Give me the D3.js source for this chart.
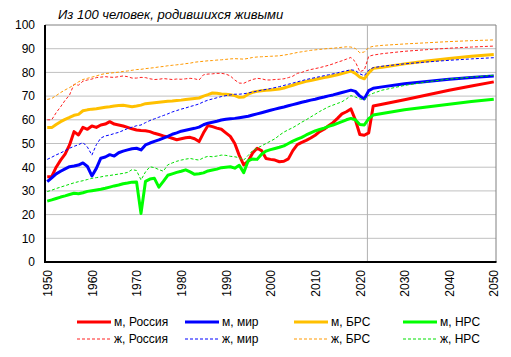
<!DOCTYPE html>
<html><head><meta charset="utf-8">
<script src="https://cdn.jsdelivr.net/npm/d3@7"></script>
<style>
html,body{margin:0;padding:0;background:#fff;}
text{font-family:"Liberation Sans",Arial,sans-serif;}
</style></head>
<body><svg id="c" width="511" height="357"></svg>
<script>
const title = "Из 100 человек, родившихся живыми";
const years = [1950,1951,1952,1953,1954,1955,1956,1957,1958,1959,
1960,1961,1962,1963,1964,1965,1966,1967,1968,1969,
1970,1971,1972,1973,1974,1975,1976,1977,1978,1979,
1980,1981,1982,1983,1984,1985,1986,1987,1988,1989,
1990,1991,1992,1993,1994,1995,1996,1997,1998,1999,
2000,2001,2002,2003,2004,2005,2006,2007,2008,2009,
2010,2011,2012,2013,2014,2015,2016,2017,2018,2019,
2020,2021,2022,2023,2025,2030,2035,2040,2045,2050];
const mRussia = [36.0,36.0,40.0,43.0,45.5,49.4,55.0,53.6,56.8,56.0,
57.4,56.8,57.8,58.2,59.2,58.2,57.8,57.4,56.8,56.2,
55.7,55.5,55.4,55.0,54.3,53.8,53.2,52.8,52.2,51.6,
52.0,52.4,52.6,52.0,50.8,54.5,57.6,57.1,56.5,56.0,
54.5,53.0,50.0,45.0,41.0,42.5,46.0,48.0,47.0,43.7,
43.3,43.0,42.3,42.5,43.5,47.0,49.5,50.5,51.3,52.3,
53.5,55.0,56.0,57.5,58.8,60.6,62.5,63.4,64.6,60.0,
53.8,53.5,54.5,65.8,66.6,68.5,70.5,72.5,74.3,76.0];
const mWorld = [33.9,35.5,37.2,38.3,39.3,40.2,40.5,40.9,41.8,40.3,
36.3,39.5,43.8,44.3,45.3,44.7,46.1,46.8,47.3,47.8,
48.0,47.3,49.4,50.2,50.9,51.5,52.3,53.0,53.9,54.5,
55.2,55.6,56.0,56.4,56.9,57.9,58.6,59.0,59.4,59.9,
60.2,60.4,60.6,60.9,61.2,61.5,62.0,62.5,63.0,63.5,
64.0,64.5,65.0,65.4,65.9,66.4,66.9,67.4,67.8,68.3,
68.7,69.2,69.6,70.1,70.5,71.0,71.5,72.0,72.5,72.0,
70.0,68.8,72.3,73.3,73.9,75.2,76.2,77.1,77.8,78.5];
const mBRS = [56.7,56.7,58.0,59.2,60.2,61.0,61.9,62.3,63.8,64.2,
64.5,64.7,65.0,65.3,65.5,65.8,66.0,66.1,65.8,65.5,
65.8,66.2,66.8,67.0,67.2,67.4,67.6,67.8,67.9,68.1,
68.3,68.6,68.8,69.0,69.2,70.0,70.6,71.3,71.2,70.9,
70.8,70.6,70.2,69.5,69.6,70.8,71.6,72.0,72.3,72.5,
72.6,72.8,73.0,73.4,74.0,74.6,75.2,75.7,76.2,76.6,
77.0,77.4,77.8,78.2,78.6,79.0,79.5,80.0,80.6,79.6,
78.0,77.3,79.8,81.7,82.2,83.6,84.8,85.9,86.8,87.6];
const mNRS = [25.7,26.2,26.8,27.4,27.9,28.5,29.0,28.8,29.2,29.8,
30.1,30.4,30.7,31.1,31.6,32.1,32.5,33.0,33.3,33.7,
33.8,20.5,34.0,35.0,35.3,31.6,34.0,36.6,37.2,37.8,
38.3,38.9,38.0,37.0,37.2,37.6,38.4,38.8,39.2,39.8,
40.0,40.2,39.6,40.8,37.7,42.7,43.5,43.3,45.5,46.8,
47.4,47.9,48.4,49.0,50.0,51.0,51.8,52.6,53.6,54.5,
55.3,55.9,56.5,57.2,57.8,58.5,59.2,60.0,60.6,60.0,
58.0,57.8,60.5,62.0,62.7,64.2,65.4,66.6,67.7,68.7];
const fRussia = [60.0,60.0,63.0,65.5,68.2,70.5,75.0,74.6,76.3,76.8,
77.2,77.8,78.0,78.2,78.0,77.9,78.2,78.5,78.2,77.6,
77.6,77.9,77.8,77.3,77.0,77.1,77.4,77.2,77.0,77.2,
77.1,77.3,77.5,77.3,76.8,79.0,79.3,79.4,79.6,79.6,
79.3,78.5,76.8,75.5,75.4,76.3,77.0,77.5,77.3,76.8,
76.8,77.0,77.1,77.3,77.8,78.4,79.6,80.0,80.7,81.2,
81.6,82.0,82.5,83.0,83.6,84.3,84.9,85.6,86.3,84.5,
80.3,81.0,86.8,87.3,87.9,88.9,89.6,90.2,90.7,91.1];
const fWorld = [43.3,44.2,45.2,46.0,47.0,48.0,48.8,49.5,50.4,48.5,
45.1,49.5,52.3,53.2,53.6,54.2,54.7,55.5,56.3,56.9,
57.5,57.8,58.8,59.7,60.4,61.1,61.8,62.5,63.3,63.9,
64.5,65.0,65.6,66.1,66.7,67.6,68.3,68.8,69.3,69.8,
70.2,70.5,70.8,70.8,71.0,71.3,71.7,72.1,72.5,72.8,
73.2,73.6,74.0,74.5,75.0,75.5,76.0,76.5,77.0,77.4,
77.8,78.2,78.6,79.0,79.4,79.8,80.3,80.7,81.1,80.8,
79.4,78.6,81.0,82.0,82.6,83.6,84.4,85.1,85.7,86.2];
const fBRS = [68.6,69.0,70.2,71.5,72.6,73.6,74.7,76.0,77.0,77.5,
78.0,78.5,79.1,79.5,79.7,79.9,80.1,80.4,80.6,80.9,
81.2,81.3,81.6,81.8,82.0,82.3,82.5,82.8,83.0,83.2,
83.4,83.7,83.9,84.3,84.5,84.7,84.9,85.0,85.2,85.3,
85.5,85.7,85.8,85.7,85.6,85.9,86.3,86.5,86.6,86.7,
86.8,86.9,87.0,87.3,87.6,88.0,88.4,88.7,89.0,89.3,
89.5,89.7,89.9,90.1,90.2,90.4,90.6,90.8,90.7,90.1,
88.3,88.6,90.5,91.0,91.4,92.0,92.5,93.0,93.4,93.7];
const fNRS = [29.7,30.3,31.0,31.6,32.2,32.8,33.4,33.9,34.3,34.8,
35.3,35.6,35.9,36.3,36.5,36.8,37.1,37.4,37.8,39.0,
38.6,34.6,38.0,40.2,39.8,39.0,38.3,41.0,41.8,42.5,
43.0,43.4,43.7,43.3,43.0,44.0,44.6,44.4,44.7,45.1,
45.0,44.6,44.4,44.0,43.0,45.0,47.0,48.0,49.0,50.0,
51.0,52.0,53.5,54.8,55.8,56.7,57.8,59.0,60.0,61.2,
62.3,63.5,64.5,65.5,66.2,66.9,67.6,68.8,70.2,69.6,
68.8,68.5,70.3,71.2,72.5,74.5,76.0,77.2,78.0,78.8];
const seriesNames = ["м, Россия","м, мир","м, БРС","м, НРС","ж, Россия","ж, мир","ж, БРС","ж, НРС"];
const yTicks = [0,10,20,30,40,50,60,70,80,90,100];
const xTicks = [1950,1960,1970,1980,1990,2000,2010,2020,2030,2040,2050];
const dividerYear = 2021.7;

const series = [
  {name:seriesNames[0], values:mRussia, color:"#ff0000", w:3, dash:null},
  {name:seriesNames[1], values:mWorld, color:"#0000ff", w:3, dash:null},
  {name:seriesNames[2], values:mBRS, color:"#ffc000", w:3, dash:null},
  {name:seriesNames[3], values:mNRS, color:"#00ff00", w:3, dash:null},
  {name:seriesNames[4], values:fRussia, color:"#ff2020", w:1, dash:"3,2"},
  {name:seriesNames[5], values:fWorld, color:"#0000ff", w:1, dash:"3,2"},
  {name:seriesNames[6], values:fBRS, color:"#ff9900", w:1, dash:"3,2"},
  {name:seriesNames[7], values:fNRS, color:"#00e000", w:1, dash:"3,2"}
];

const svg = d3.select("#c");
const L=45, R=496, T=25, B=262;
const x = d3.scaleLinear().domain([1949.5, 2050.5]).range([L, R]);
const y = d3.scaleLinear().domain([0, 100]).range([B, T]);

// gridlines
svg.append("g").selectAll("line").data(yTicks.filter(d=>d>0 && d<100)).join("line")
  .attr("x1",L).attr("x2",R).attr("y1",d=>y(d)).attr("y2",d=>y(d))
  .attr("stroke","#c0c0c0").attr("stroke-width",1);
// top/right border
svg.append("line").attr("x1",L).attr("x2",R).attr("y1",y(100)).attr("y2",y(100)).attr("stroke","#808080").attr("stroke-width",1);
svg.append("line").attr("x1",R).attr("x2",R).attr("y1",T).attr("y2",B).attr("stroke","#808080").attr("stroke-width",1);
// divider
svg.append("line").attr("x1",x(dividerYear)).attr("x2",x(dividerYear)).attr("y1",T).attr("y2",B)
  .attr("stroke","#b0b0b0").attr("stroke-width",1);

// lines
const line = vals => d3.line().x((d,i)=>x(years[i])).y(d=>y(d))(vals);
const order = [0,1,2,3,4,5,6,7];
svg.append("g").selectAll("path").data(order.map(i=>series[i])).join("path")
  .attr("d",s=>line(s.values)).attr("fill","none")
  .attr("stroke",s=>s.color).attr("stroke-width",s=>s.w)
  .attr("stroke-dasharray",s=>s.dash).attr("stroke-linejoin","round");

// axes
const yAxis = svg.append("g").attr("transform",`translate(${L},0)`)
  .call(d3.axisLeft(y).tickValues(yTicks).tickSize(0).tickPadding(10));
yAxis.select(".domain").remove();
yAxis.selectAll("text").attr("font-size",12).attr("fill","#000").attr("font-family","Liberation Sans, Arial, sans-serif");
const xAxis = svg.append("g").attr("transform",`translate(0,${B})`)
  .call(d3.axisBottom(x).tickValues(xTicks).tickFormat(d3.format("d")).tickSize(0));
xAxis.select(".domain").remove();
xAxis.selectAll("text").attr("font-size",12).attr("fill","#000").attr("font-family","Liberation Sans, Arial, sans-serif")
  .attr("text-anchor","end").attr("transform","rotate(-90)")
  .attr("x",-8).attr("y",0).attr("dy","0.35em");
svg.append("line").attr("x1",L).attr("x2",L).attr("y1",T).attr("y2",B+1).attr("stroke","#000").attr("stroke-width",2);
svg.append("line").attr("x1",L-1).attr("x2",R+0.5).attr("y1",B).attr("y2",B).attr("stroke","#000").attr("stroke-width",2);

// title
svg.append("text").attr("x",58).attr("y",19).attr("font-size",13).attr("font-style","italic").attr("fill","#000").text(title);

// legend
const legX = [77,185,294,403];
const legY = [322,339];
series.forEach((s,i)=>{
  const col = i%4, row = Math.floor(i/4);
  const g = svg.append("g").attr("transform",`translate(${legX[col]},${legY[row]})`);
  g.append("line").attr("x1",0).attr("x2",34).attr("y1",0).attr("y2",0)
    .attr("stroke",s.color).attr("stroke-width",s.w).attr("stroke-dasharray",s.dash);
  g.append("text").attr("x",37).attr("y",0).attr("dy","0.35em").attr("font-size",12).attr("fill","#000").text(s.name);
});
</script></body></html>
